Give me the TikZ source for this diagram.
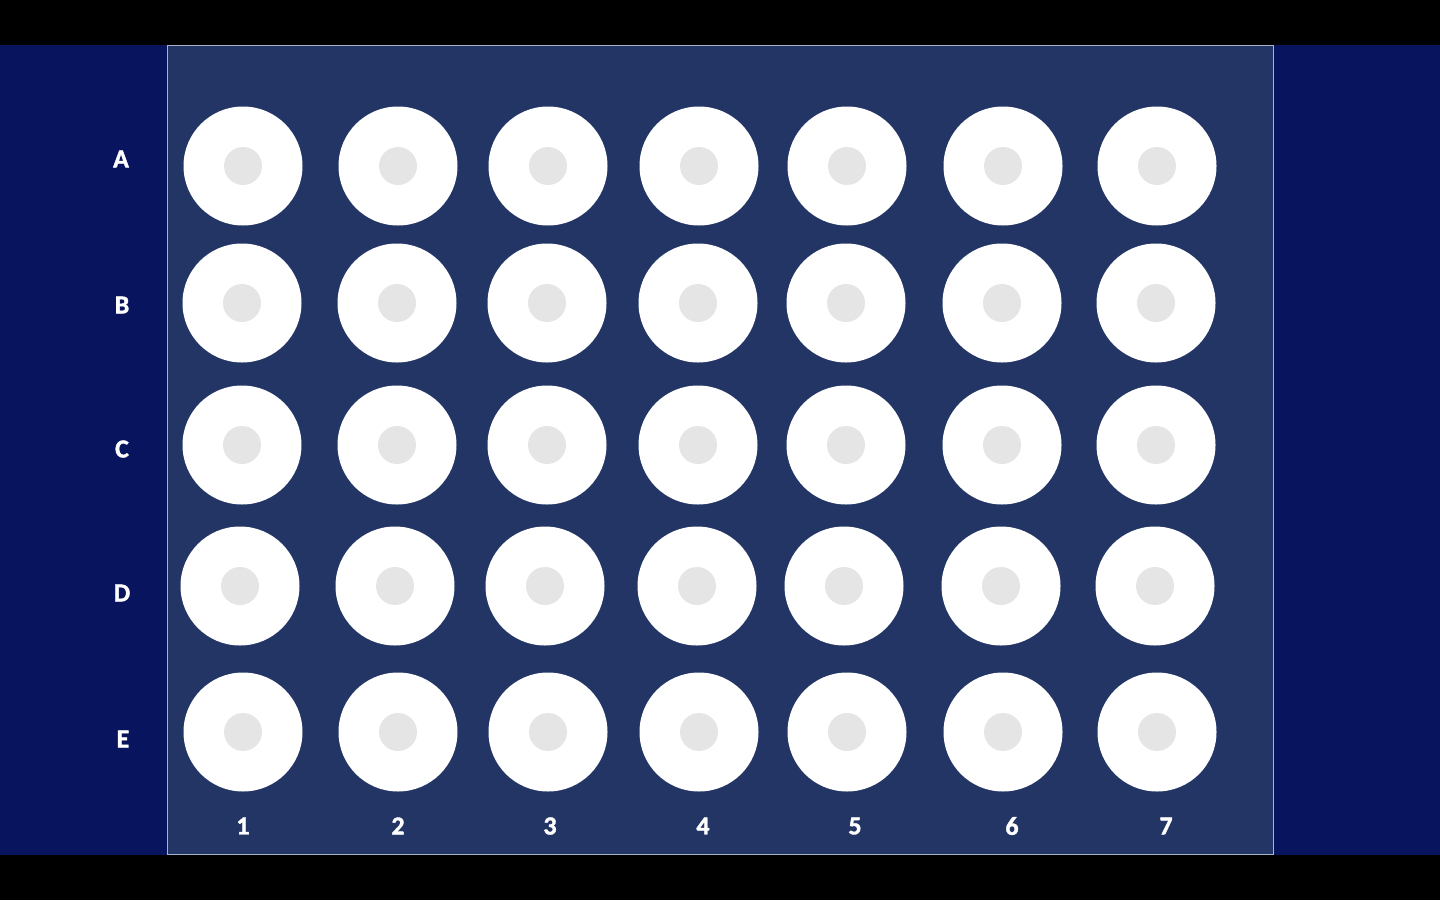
\documentclass[tikz,border=0pt]{standalone}
\usepackage{fontspec}
\setmainfont{Carlito}
\newfontfamily\lblfont{Carlito}[UprightFont=*-Bold,FakeBold=1.5]
\definecolor{bgblue}{RGB}{9,20,94}
\definecolor{plateblue}{RGB}{34,53,101}
\definecolor{plateedge}{RGB}{170,178,200}
\definecolor{wellgray}{RGB}{229,229,229}
\tikzset{
  well/.style={circle,fill=white,draw=none,minimum size=119pt,inner sep=0pt},
  core/.style={circle,fill=wellgray,draw=none,minimum size=38pt,inner sep=0pt},
  lbl/.style={text=white,font=\lblfont\fontsize{26}{30}\selectfont,inner sep=0pt}
}
\begin{document}
\begin{tikzpicture}[x=1pt,y=-1pt]
\useasboundingbox (0,0) rectangle (1440,900);
\fill[black] (0,0) rectangle (1440,900);
\fill[bgblue] (0,45) rectangle (1440,855);
\draw[fill=plateblue,draw=plateedge,line width=1pt] (167,45.5) rectangle (1273,854.5);
% rows
\foreach \r/\y/\lx/\ly/\xs in {
  A/166/121/159/{243,398,548,699,847,1003,1157},
  B/303/122/305/{242,397,547,698,846,1002,1156},
  C/445/122/449/{242,397,547,698,846,1002,1156},
  D/586/122/593/{240,395,545,697,844,1001,1155},
  E/732/123/739/{243,398,548,699,847,1003,1157}}{
  \node[lbl] (row\r) at (\lx,\ly) {\r};
  \foreach \x [count=\c] in \xs {
    \node[well] (w\r\c) at (\x,\y) {};
    \node[core] (c\r\c) at (w\r\c.center) {};
  }
}
\foreach \n/\x in {1/243,2/398,3/550,4/703,5/855,6/1012,7/1166}{
  \node[lbl] (col\n) at (\x,826) {\n};
}
\end{tikzpicture}
\end{document}
